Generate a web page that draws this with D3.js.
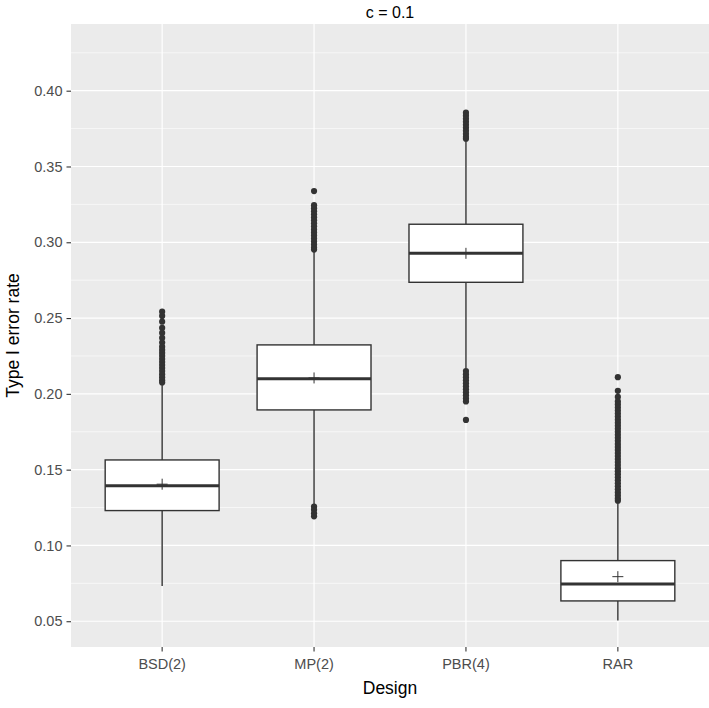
<!DOCTYPE html>
<html>
<head>
<meta charset="utf-8">
<script src="https://cdn.jsdelivr.net/npm/d3@7"></script>
<style>
  body{margin:0;background:#fff;}
  text{font-family:"Liberation Sans",Arial,sans-serif;}
</style>
</head>
<body>
<svg id="chart"></svg>
<script>
// data
var designs = ["BSD(2)","MP(2)","PBR(4)","RAR"];
var lowWhisker  = [0.0733, 0.1267, 0.2169, 0.0504];
var lowerQ      = [0.1230, 0.1894, 0.2736, 0.0634];
var medians     = [0.1394, 0.2100, 0.2927, 0.0746];
var upperQ      = [0.1564, 0.2323, 0.3119, 0.0900];
var highWhisker = [0.2059, 0.2948, 0.3679, 0.1289];
var means       = [0.1404, 0.2105, 0.2927, 0.0794];

var outBSD = [0.2542,0.2514,0.2476,0.2435,0.2402,0.2369,0.2338,0.2311,0.2290,0.2270,0.2250,
              0.2230,0.2210,0.2190,0.2170,0.2150,0.2130,0.2110,0.2090,0.2075];
var outMP  = [0.3338,0.3245,0.3225,0.3205,0.3185,0.3165,0.3146,0.3125,0.3105,0.3085,0.3065,
              0.3045,0.3025,0.3005,0.2985,0.2965,0.2952,0.1256,0.1235,0.1212,0.1192];
var outPBR = [0.3855,0.3835,0.3815,0.3795,0.3775,0.3755,0.3735,0.3715,0.3695,0.3683,
              0.2150,0.2130,0.2110,0.2090,0.2070,0.2050,0.2030,0.2010,0.1990,0.1970,0.1950,0.1828];
var outRAR = [0.2110,0.2020,0.1980,0.1950,0.1930,0.1910,0.1890,0.1870,0.1850,0.1830,0.1810,
              0.1790,0.1770,0.1750,0.1730,0.1710,0.1690,0.1670,0.1650,0.1630,0.1610,0.1590,
              0.1570,0.1550,0.1530,0.1510,0.1490,0.1470,0.1450,0.1430,0.1410,0.1390,0.1370,
              0.1350,0.1330,0.1310,0.1295];
var outliers = [outBSD, outMP, outPBR, outRAR];

var yTicks = [0.05,0.10,0.15,0.20,0.25,0.30,0.35,0.40];
var yMinor = [0.075,0.125,0.175,0.225,0.275,0.325,0.375,0.425];

var width = 709, height = 708;
var margin = {top:24, right:0, bottom:61, left:71};

var svg = d3.select("#chart")
            .attr("width",width)
            .attr("height",height);

// ggplot style discrete expansion: 0.6 of a step on each side
var step = (width-margin.right-margin.left)/4.2;
var xScale = d3.scaleBand()
               .domain(designs)
               .range([margin.left+0.1*step, width-margin.right-0.1*step])
               .padding(0);
var xc = function(d){ return xScale(d)+xScale.bandwidth()/2; };

var yScale = d3.scaleLinear()
               .domain([0.0330, 0.4440])
               .range([height-margin.bottom, margin.top]);

// panel
svg.append("rect")
   .attr("x",margin.left).attr("y",margin.top)
   .attr("width",width-margin.right-margin.left)
   .attr("height",height-margin.bottom-margin.top)
   .attr("fill","#EBEBEB");

var grid = svg.append("g");
grid.selectAll("line.minor").data(yMinor).enter().append("line")
    .attr("x1",margin.left).attr("x2",width-margin.right)
    .attr("y1",function(d){return yScale(d);}).attr("y2",function(d){return yScale(d);})
    .attr("stroke","#fff").attr("stroke-width",0.6);
grid.selectAll("line.major").data(yTicks).enter().append("line")
    .attr("x1",margin.left).attr("x2",width-margin.right)
    .attr("y1",function(d){return yScale(d);}).attr("y2",function(d){return yScale(d);})
    .attr("stroke","#fff").attr("stroke-width",1.2);
grid.selectAll("line.vert").data(designs).enter().append("line")
    .attr("x1",xc).attr("x2",xc)
    .attr("y1",margin.top).attr("y2",height-margin.bottom)
    .attr("stroke","#fff").attr("stroke-width",1.2);

// boxes
var boxW = xScale.bandwidth()*0.75;
var boxes = svg.selectAll("g.box").data(designs).enter().append("g").attr("class","box");

boxes.append("line")
     .attr("x1",xc).attr("x2",xc)
     .attr("y1",function(d,i){return yScale(highWhisker[i]);})
     .attr("y2",function(d,i){return yScale(upperQ[i]);})
     .attr("stroke","#333").attr("stroke-width",1.4);
boxes.append("line")
     .attr("x1",xc).attr("x2",xc)
     .attr("y1",function(d,i){return yScale(lowerQ[i]);})
     .attr("y2",function(d,i){return yScale(lowWhisker[i]);})
     .attr("stroke","#333").attr("stroke-width",1.4);
boxes.append("rect")
     .attr("x",function(d){return xc(d)-boxW/2;})
     .attr("y",function(d,i){return yScale(upperQ[i]);})
     .attr("width",boxW)
     .attr("height",function(d,i){return yScale(lowerQ[i])-yScale(upperQ[i]);})
     .attr("fill","#fff").attr("stroke","#333").attr("stroke-width",1.4);
boxes.append("line")
     .attr("x1",function(d){return xc(d)-boxW/2;})
     .attr("x2",function(d){return xc(d)+boxW/2;})
     .attr("y1",function(d,i){return yScale(medians[i]);})
     .attr("y2",function(d,i){return yScale(medians[i]);})
     .attr("stroke","#333").attr("stroke-width",3);

// outliers
boxes.each(function(d,i){
  d3.select(this).selectAll("circle").data(outliers[i]).enter().append("circle")
    .attr("cx",xc(d))
    .attr("cy",function(v){return yScale(v);})
    .attr("r",3.1)
    .attr("fill","#333");
});

// mean crosses
var cs = 5.5;
boxes.append("path")
     .attr("d",function(d,i){
        var x=xc(d), y=yScale(means[i]);
        return "M"+(x-cs)+","+y+"H"+(x+cs)+"M"+x+","+(y-cs)+"V"+(y+cs);
     })
     .attr("stroke","#333").attr("stroke-width",1).attr("fill","none");

// axes
var yAxis = d3.axisLeft(yScale).tickValues(yTicks).tickFormat(d3.format(".2f"))
              .tickSize(4.5).tickPadding(4);
var gy = svg.append("g").attr("transform","translate("+margin.left+",0)").call(yAxis);
gy.select(".domain").remove();
gy.selectAll("line").attr("stroke","#333").attr("stroke-width",1.1);
gy.selectAll("text").attr("fill","#4D4D4D").style("font-size","14.5px");

var xAxis = d3.axisBottom(xScale).tickSize(4.5).tickPadding(7);
var gx = svg.append("g").attr("transform","translate(0,"+(height-margin.bottom)+")").call(xAxis);
gx.select(".domain").remove();
gx.selectAll("line").attr("stroke","#333").attr("stroke-width",1.1);
gx.selectAll("text").attr("fill","#4D4D4D").style("font-size","14.5px");

// titles
svg.append("text")
   .attr("x",(margin.left+width-margin.right)/2).attr("y",18)
   .attr("text-anchor","middle").attr("fill","#000")
   .style("font-size","16px").text("c = 0.1");
svg.append("text")
   .attr("x",(margin.left+width-margin.right)/2).attr("y",694)
   .attr("text-anchor","middle").attr("fill","#000")
   .style("font-size","17.5px").text("Design");
svg.append("text")
   .attr("transform","translate(19,"+((margin.top+height-margin.bottom)/2)+") rotate(-90)")
   .attr("text-anchor","middle").attr("fill","#000")
   .style("font-size","17.5px").text("Type I error rate");
</script>
</body>
</html>
